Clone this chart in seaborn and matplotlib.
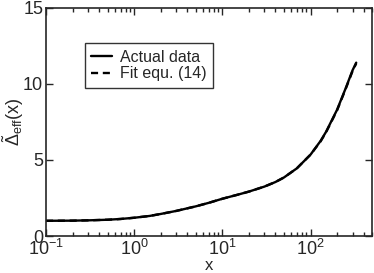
import numpy as np
import pandas as pd
import matplotlib
matplotlib.use("Agg")
import matplotlib.pyplot as plt
import seaborn as sns

# values
x_vals = [0.1, 0.2, 0.3, 0.5, 0.7, 1.0, 1.5, 2.0, 3.0, 5.0, 7.0, 10.0, 15.0, 20.0,
          30.0, 40.0, 50.0, 70.0, 100.0, 130.0, 150.0, 200.0, 250.0, 300.0, 330.0]
actual = [1.00, 1.01, 1.03, 1.07, 1.12, 1.20, 1.32, 1.45, 1.65, 1.95, 2.18, 2.45, 2.72, 2.92,
          3.25, 3.55, 3.85, 4.45, 5.35, 6.25, 6.85, 8.30, 9.70, 10.90, 11.40]
fit = [1.00, 1.01, 1.03, 1.07, 1.12, 1.20, 1.32, 1.45, 1.65, 1.95, 2.18, 2.45, 2.72, 2.92,
       3.25, 3.55, 3.85, 4.45, 5.35, 6.22, 6.82, 8.26, 9.66, 10.85, 11.35]

df = pd.concat([
    pd.DataFrame({"x": x_vals, "y": actual, "curve": "Actual data"}),
    pd.DataFrame({"x": x_vals, "y": fit, "curve": "Fit equ. (14)"}),
])

sns.set_style("ticks")
plt.rcParams["font.family"] = ["Liberation Sans", "DejaVu Sans"]
plt.rcParams["mathtext.fontset"] = "custom"
plt.rcParams["mathtext.rm"] = "Liberation Sans"
plt.rcParams["mathtext.it"] = "Liberation Sans"
plt.rcParams["axes.unicode_minus"] = False

fig, ax = plt.subplots(figsize=(3.74, 2.73), dpi=100)
sns.lineplot(data=df, x="x", y="y", style="curve", color="black",
             dashes={"Actual data": "", "Fit equ. (14)": (3, 2)},
             linewidth=1.7, ax=ax)

ax.set_xscale("log")
ax.set_xlim(0.1, 500)
ax.set_ylim(0, 15)
ax.set_yticks([0, 5, 10, 15])
ax.set_xlabel("x", fontsize=12)
ax.set_ylabel(r"$\tilde{\Delta}_{\rm eff}(x)$", fontsize=13)
ax.xaxis.set_label_coords(0.5, -0.098)
ax.yaxis.set_label_coords(-0.062, 0.5)
ax.tick_params(which="both", direction="in", top=True, right=True, labelsize=13)
ax.tick_params(which="major", length=5, width=1)
ax.tick_params(which="minor", length=3, width=1)
ax.tick_params(axis="y", which="minor", left=False, right=False)
ax.tick_params(axis="y", pad=2)
ax.tick_params(axis="x", pad=2)
for s in ax.spines.values():
    s.set_linewidth(1.2)

leg = ax.legend(loc="upper left", bbox_to_anchor=(0.095, 0.88), fontsize=11.5,
                frameon=True, fancybox=False, edgecolor="black",
                handlelength=1.3, handletextpad=0.5, borderpad=0.4, labelspacing=0.1)
leg.get_frame().set_linewidth(1.0)

fig.subplots_adjust(left=0.123, right=0.995, top=0.971, bottom=0.1355)
fig.savefig("out.png", dpi=100)
